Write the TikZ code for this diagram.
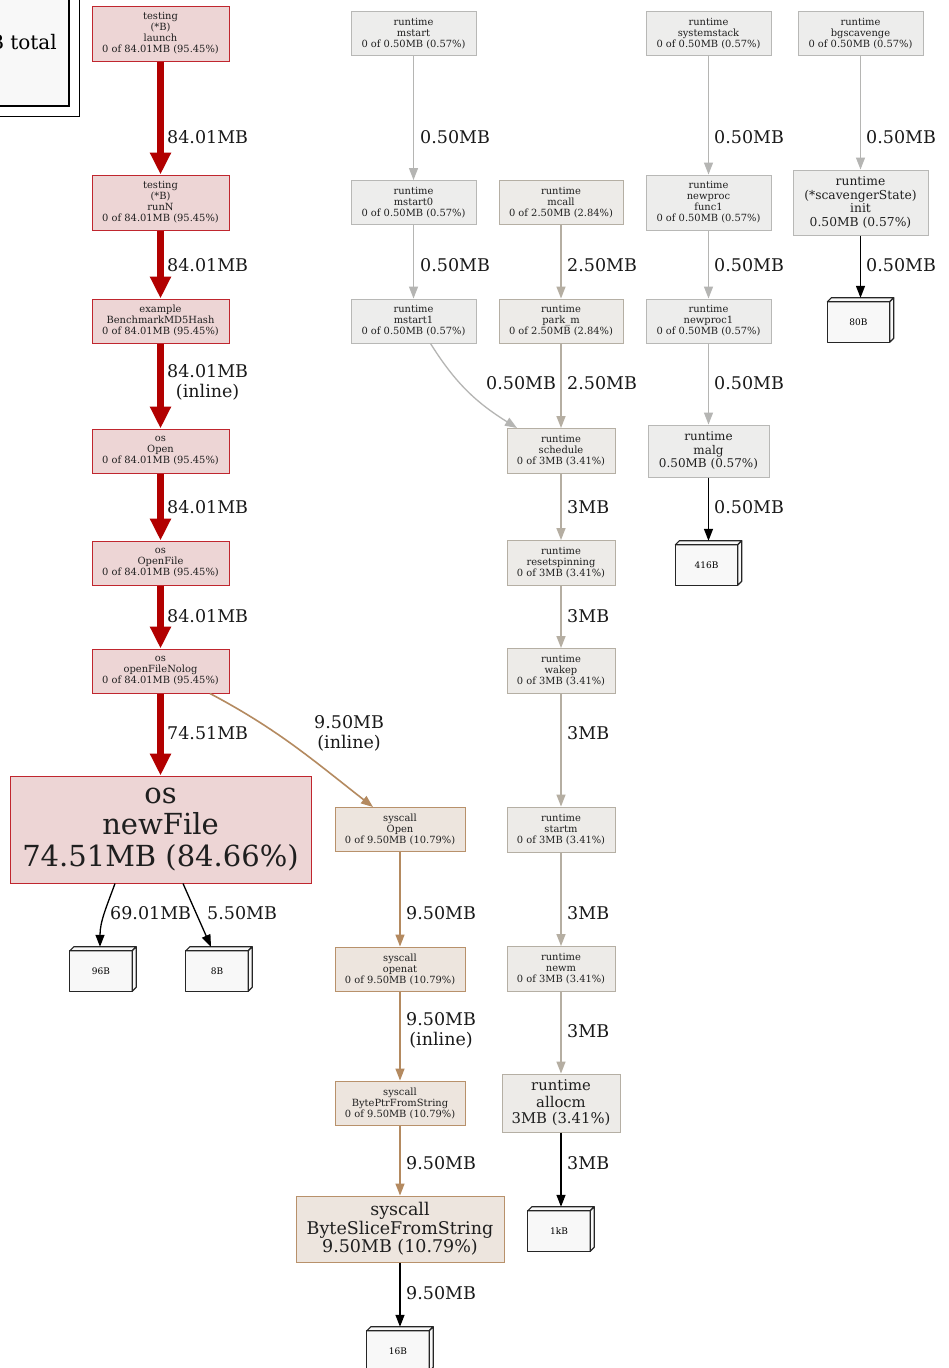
\documentclass[tikz,border=0pt]{standalone}
\usepackage{fontspec}
\setmainfont{DejaVu Serif}
\usetikzlibrary{arrows.meta}
\definecolor{redfill}{HTML}{EDD5D5}
\definecolor{redline}{HTML}{C0262E}
\definecolor{rededge}{HTML}{B20000}
\definecolor{synfill}{HTML}{EDE5DE}
\definecolor{synline}{HTML}{B8916B}
\definecolor{synedge}{HTML}{B48A60}
\definecolor{tanfill}{HTML}{EDEBE8}
\definecolor{tanline}{HTML}{B5AFA4}
\definecolor{tanedge}{HTML}{B5AEA2}
\definecolor{greyfill}{HTML}{EDEDEC}
\definecolor{greyline}{HTML}{B8B8B6}
\definecolor{greyedge}{HTML}{B5B5B3}
\definecolor{boxfill}{HTML}{F8F8F8}
\newcommand\fs[2]{\fontsize{#1}{#2}\selectfont}
\tikzset{
  fn/.style={draw, rectangle, align=center, inner sep=0pt, line width=1pt, text=black!88},
  rednode/.style={fn, fill=redfill, draw=redline},
  synnode/.style={fn, fill=synfill, draw=synline},
  tannode/.style={fn, fill=tanfill, draw=tanline},
  greynode/.style={fn, fill=greyfill, draw=greyline},
  smalltxt/.style={font=\fs{9.9}{11}},
  lbl/.style={anchor=west, inner sep=0pt, align=center, font=\fs{17.5}{19.5}, text=black!90},
  redE/.style={draw=rededge, line width=7pt, -{Triangle[length=22pt,width=20pt]}},
  greyE/.style={draw=greyedge, line width=1.3pt, -{Triangle[length=12pt,width=9pt]}},
  tanE/.style={draw=tanedge, line width=1.5pt, -{Triangle[length=12pt,width=9pt]}},
  synE/.style={draw=synedge, line width=1.6pt, -{Triangle[length=12pt,width=9pt]}},
  blkE/.style={draw=black, line width=1.3pt, -{Triangle[length=12pt,width=9pt]}},
  box3dnode/.style={rectangle, minimum width=66pt, minimum height=44pt, inner sep=0pt},
  boxface/.style={fill=boxfill, draw=black!85, line width=1.2pt, line join=round},
}
\newcommand\boxthreed[4]{%
  \node[box3dnode] (#1) at (#2,#3) {};
  \filldraw[boxface] (#1.south west) rectangle ([xshift=-4pt,yshift=-4pt]#1.north east);
  \filldraw[boxface] ([yshift=-4pt]#1.north west) -- ([xshift=4pt]#1.north west) -- (#1.north east) -- ([xshift=-4pt,yshift=-4pt]#1.north east) -- cycle;
  \filldraw[boxface] ([xshift=-4pt,yshift=-4pt]#1.north east) -- (#1.north east) -- ([yshift=4pt]#1.south east) -- ([xshift=-4pt]#1.south east) -- cycle;
  \node[font=\fs{9}{10}, inner sep=0pt] (#1t) at ([xshift=-2pt,yshift=-2pt]#1.center) {#4};
}
\begin{document}
\begin{tikzpicture}[x=1pt, y=-1pt]
\useasboundingbox (0,0) rectangle (948,1368);
\clip (0,0) rectangle (948,1368);
\fill[white] (0,0) rectangle (948,1368);

% legend (cut off)
\draw[fill=white, line width=1pt] (-300,-10) rectangle (79,116);
\draw[fill=boxfill, line width=1.4pt] (-300,-10) rectangle (69,106);
\node[anchor=east, inner sep=0pt, font=\fs{20}{22}] (legend) at (57,42) {88.01MB total};

% left column
\node[rednode, smalltxt, minimum width=137pt, minimum height=55pt] (launch) at (160.5,33.5) {testing\\(*B)\\launch\\0 of 84.01MB (95.45\%)};
\node[rednode, smalltxt, minimum width=137pt, minimum height=55pt] (runN) at (160.5,202.5) {testing\\(*B)\\runN\\0 of 84.01MB (95.45\%)};
\node[rednode, smalltxt, minimum width=137pt, minimum height=44pt] (bench) at (160.5,321) {example\\BenchmarkMD5Hash\\0 of 84.01MB (95.45\%)};
\node[rednode, smalltxt, minimum width=137pt, minimum height=44pt] (osopen) at (160.5,451) {os\\Open\\0 of 84.01MB (95.45\%)};
\node[rednode, smalltxt, minimum width=137pt, minimum height=44pt] (openfile) at (160.5,563) {os\\OpenFile\\0 of 84.01MB (95.45\%)};
\node[rednode, smalltxt, minimum width=137pt, minimum height=44pt] (ofn) at (160.5,671) {os\\openFileNolog\\0 of 84.01MB (95.45\%)};
\node[rednode, font=\fs{29}{31.5}, minimum width=301pt, minimum height=107pt] (newfile) at (160.5,829.5) {os\\newFile\\74.51MB (84.66\%)};
\boxthreed{b96}{103}{969}{96B}
\boxthreed{b8}{219}{969}{8B}

% syscall column
\node[synnode, smalltxt, minimum width=130pt, minimum height=44pt] (sysopen) at (400,829.5) {syscall\\Open\\0 of 9.50MB (10.79\%)};
\node[synnode, smalltxt, minimum width=130pt, minimum height=44pt] (openat) at (400,969) {syscall\\openat\\0 of 9.50MB (10.79\%)};
\node[synnode, smalltxt, minimum width=130pt, minimum height=44pt] (byteptr) at (400,1103) {syscall\\BytePtrFromString\\0 of 9.50MB (10.79\%)};
\node[synnode, font=\fs{17.5}{18.5}, minimum width=208pt, minimum height=66pt] (byteslice) at (400,1229) {syscall\\ByteSliceFromString\\9.50MB (10.79\%)};
\boxthreed{b16}{400}{1349}{16B}

% middle columns
\node[greynode, smalltxt, minimum width=125pt, minimum height=44pt] (mstart) at (413.5,33.5) {runtime\\mstart\\0 of 0.50MB (0.57\%)};
\node[greynode, smalltxt, minimum width=125pt, minimum height=44pt] (mstart0) at (413.5,202.5) {runtime\\mstart0\\0 of 0.50MB (0.57\%)};
\node[greynode, smalltxt, minimum width=125pt, minimum height=44pt] (mstart1) at (413.5,321) {runtime\\mstart1\\0 of 0.50MB (0.57\%)};
\node[tannode, smalltxt, minimum width=124pt, minimum height=44pt] (mcall) at (561,202.5) {runtime\\mcall\\0 of 2.50MB (2.84\%)};
\node[tannode, smalltxt, minimum width=124pt, minimum height=44pt] (parkm) at (561,321) {runtime\\park\_m\\0 of 2.50MB (2.84\%)};
\node[tannode, smalltxt, minimum width=108pt, minimum height=45pt] (schedule) at (561,451) {runtime\\schedule\\0 of 3MB (3.41\%)};
\node[tannode, smalltxt, minimum width=108pt, minimum height=45pt] (resetspin) at (561,563) {runtime\\resetspinning\\0 of 3MB (3.41\%)};
\node[tannode, smalltxt, minimum width=108pt, minimum height=45pt] (wakep) at (561,671) {runtime\\wakep\\0 of 3MB (3.41\%)};
\node[tannode, smalltxt, minimum width=108pt, minimum height=45pt] (startm) at (561,829.5) {runtime\\startm\\0 of 3MB (3.41\%)};
\node[tannode, smalltxt, minimum width=108pt, minimum height=45pt] (newm) at (561,969) {runtime\\newm\\0 of 3MB (3.41\%)};
\node[tannode, font=\fs{14.8}{16.5}, minimum width=118pt, minimum height=58pt] (allocm) at (561,1103) {runtime\\allocm\\3MB (3.41\%)};
\boxthreed{b1k}{561}{1229}{1kB}

% right columns
\node[greynode, smalltxt, minimum width=125pt, minimum height=44pt] (sysstack) at (708.5,33.5) {runtime\\systemstack\\0 of 0.50MB (0.57\%)};
\node[greynode, smalltxt, minimum width=125pt, minimum height=55pt] (npfunc) at (708.5,202.5) {runtime\\newproc\\func1\\0 of 0.50MB (0.57\%)};
\node[greynode, smalltxt, minimum width=125pt, minimum height=44pt] (newproc1) at (708.5,321) {runtime\\newproc1\\0 of 0.50MB (0.57\%)};
\node[greynode, font=\fs{12}{13.5}, minimum width=121pt, minimum height=52pt] (malg) at (708.5,451) {runtime\\malg\\0.50MB (0.57\%)};
\boxthreed{b416}{708.5}{563}{416B}
\node[greynode, smalltxt, minimum width=125pt, minimum height=44pt] (bgscav) at (860.5,33.5) {runtime\\bgscavenge\\0 of 0.50MB (0.57\%)};
\node[greynode, font=\fs{12.3}{13.8}, minimum width=135pt, minimum height=65pt] (scavinit) at (860.5,202.5) {runtime\\(*scavengerState)\\init\\0.50MB (0.57\%)};
\boxthreed{b80}{860.5}{320}{80B}

% edges
\draw[redE] (launch) -- (runN);
\draw[redE] (runN) -- (bench);
\draw[redE] (bench) -- (osopen);
\draw[redE] (osopen) -- (openfile);
\draw[redE] (openfile) -- (ofn);
\draw[redE] (ofn) -- (newfile);
\draw[synE] ([xshift=49.5pt]ofn.south) to[out=-28,in=142] ([xshift=-27pt]sysopen.north);
\draw[blkE] ([xshift=-45.5pt]newfile.south) to[out=-110,in=90] ([xshift=-3pt]b96.north);
\draw[blkE] ([xshift=22.5pt]newfile.south) -- ([xshift=-8pt]b8.north);
\draw[synE] (sysopen) -- (openat);
\draw[synE] (openat) -- (byteptr);
\draw[synE] (byteptr) -- (byteslice);
\draw[blkE] (byteslice) -- (b16);
\draw[greyE] (mstart) -- (mstart0);
\draw[greyE] (mstart0) -- (mstart1);
\draw[greyE] ([xshift=17pt]mstart1.south) to[out=-58,in=148] ([xshift=-44pt]schedule.north);
\draw[tanE] (mcall) -- (parkm);
\draw[tanE] (parkm) -- (schedule);
\draw[tanE] (schedule) -- (resetspin);
\draw[tanE] (resetspin) -- (wakep);
\draw[tanE] (wakep) -- (startm);
\draw[tanE] (startm) -- (newm);
\draw[tanE] (newm) -- (allocm);
\draw[blkE] (allocm) -- (b1k);
\draw[greyE] (sysstack) -- (npfunc);
\draw[greyE] (npfunc) -- (newproc1);
\draw[greyE] (newproc1) -- (malg);
\draw[blkE] (malg) -- (b416);
\draw[greyE] (bgscav) -- (scavinit);
\draw[blkE] (scavinit) -- (b80);

% edge labels
\node[lbl] (l1) at (167,137) {84.01MB};
\node[lbl] (l2) at (167,265) {84.01MB};
\node[lbl] (l3) at (167,382.5) {84.01MB\\(inline)};
\node[lbl] (l4) at (167,507) {84.01MB};
\node[lbl] (l5) at (167,616) {84.01MB};
\node[lbl] (l6) at (167,733) {74.51MB};
\node[lbl] (l7) at (314,733.5) {9.50MB\\(inline)};
\node[lbl] (l8) at (110,913) {69.01MB};
\node[lbl] (l9) at (207,913) {5.50MB};
\node[lbl] (l10) at (420,137) {0.50MB};
\node[lbl] (l11) at (420,265) {0.50MB};
\node[lbl] (l12) at (567,265) {2.50MB};
\node[lbl] (l13) at (486,383) {0.50MB};
\node[lbl] (l14) at (567,383) {2.50MB};
\node[lbl] (l15) at (567,507) {3MB};
\node[lbl] (l16) at (567,616) {3MB};
\node[lbl] (l17) at (567,733) {3MB};
\node[lbl] (l18) at (567,913) {3MB};
\node[lbl] (l19) at (567,1031) {3MB};
\node[lbl] (l20) at (567,1163) {3MB};
\node[lbl] (l21) at (406,913) {9.50MB};
\node[lbl] (l22) at (406,1030.5) {9.50MB\\(inline)};
\node[lbl] (l23) at (406,1163) {9.50MB};
\node[lbl] (l24) at (406,1293) {9.50MB};
\node[lbl] (l25) at (714,137) {0.50MB};
\node[lbl] (l26) at (714,265) {0.50MB};
\node[lbl] (l27) at (714,383) {0.50MB};
\node[lbl] (l28) at (714,507) {0.50MB};
\node[lbl] (l29) at (866,137) {0.50MB};
\node[lbl] (l30) at (866,265) {0.50MB};
\end{tikzpicture}
\end{document}
